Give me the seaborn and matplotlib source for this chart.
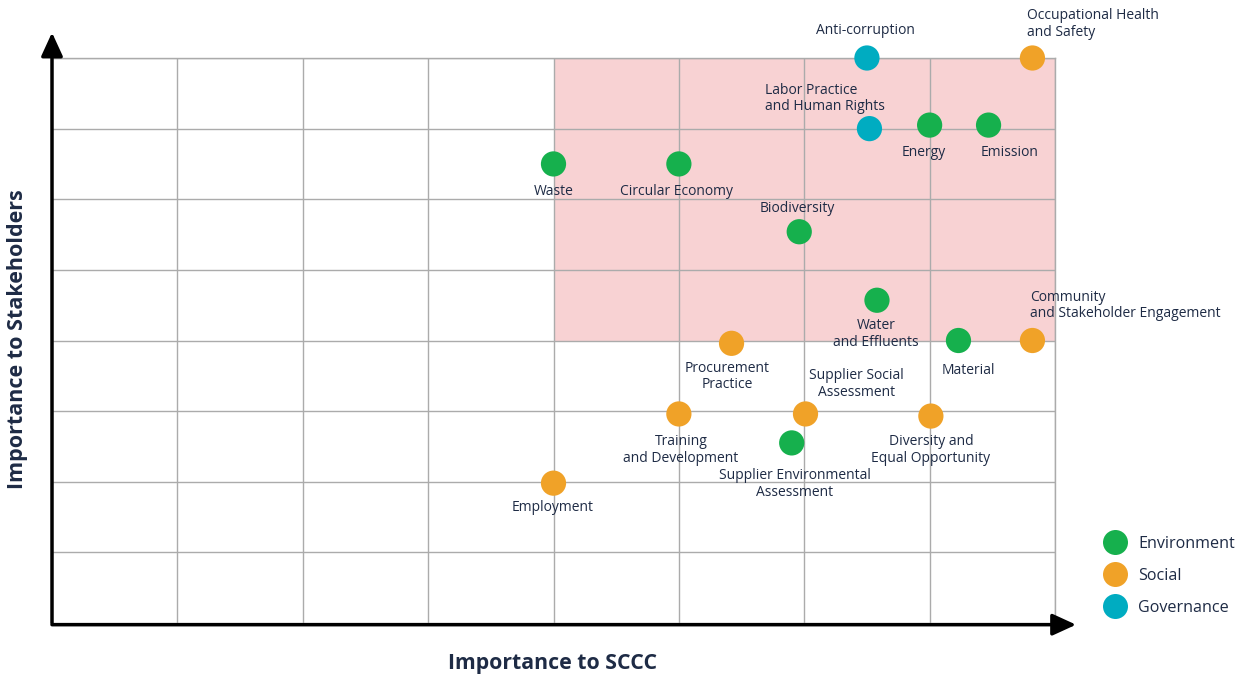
import matplotlib
matplotlib.use("Agg")
import matplotlib.pyplot as plt
import seaborn as sns
import pandas as pd
from matplotlib.patches import Rectangle
from matplotlib.lines import Line2D

# ---- data ----
topics = ["Anti-corruption", "Occupational Health\nand Safety", "Labor Practice\nand Human Rights",
          "Energy", "Emission", "Waste", "Circular Economy", "Biodiversity",
          "Water\nand Effluents", "Material", "Community\nand Stakeholder Engagement",
          "Procurement\nPractice", "Training\nand Development", "Supplier Social\nAssessment",
          "Diversity and\nEqual Opportunity", "Supplier Environmental\nAssessment", "Employment"]
importance_sccc = [6.5, 7.82, 6.52, 7.0, 7.47, 4.0, 5.0, 5.96, 6.58, 7.23, 7.82,
                   5.42, 5.0, 6.01, 7.01, 5.90, 4.0]
importance_stakeholders = [8.0, 8.0, 7.0, 7.05, 7.05, 6.5, 6.5, 5.54, 4.57, 4.0, 4.0,
                           3.96, 2.96, 2.96, 2.93, 2.55, 1.98]
dimension = ["Governance", "Social", "Governance", "Environment", "Environment",
             "Environment", "Environment", "Environment", "Environment", "Environment",
             "Social", "Social", "Social", "Social", "Social", "Environment", "Social"]
categories = ["Environment", "Social", "Governance"]
material_threshold_x = 4
material_threshold_y = 4
axis_max = 8

# ---- styling (label offsets in pixels, alignment) ----
label_style = [(-1, 27, "center"), (-5, 34, "left"), (-104, 30, "left"),
               (-6, -27, "center"), (21, -27, "center"), (0, -28, "center"),
               (-2, -28, "center"), (-2, 23, "center"), (-1, -34, "center"),
               (10, -30, "center"), (-2, 35, "left"), (-4, -33, "center"),
               (2, -36, "center"), (51, 30, "center"), (0, -34, "center"),
               (3, -41, "center"), (-1, -24, "center")]
colors = {"Environment": "#16B04D", "Social": "#F0A228", "Governance": "#00ACC1"}
text_color = "#1E2B45"
grid_color = "#ABABAB"

df = pd.DataFrame({"topic": topics, "x": importance_sccc, "y": importance_stakeholders,
                   "dimension": dimension})

sns.set_theme(style="white")
plt.rcParams["font.family"] = ["Open Sans", "DejaVu Sans"]

fig = plt.figure(figsize=(12.42, 6.78), dpi=100)
ax = fig.add_axes([52/1242, 55/678, (1055-52)/1242, (623-58)/678])

ax.add_patch(Rectangle((material_threshold_x, material_threshold_y),
                       axis_max - material_threshold_x, axis_max - material_threshold_y,
                       facecolor="#F8D2D3", edgecolor="none", zorder=0))

ax.set_xlim(0, axis_max)
ax.set_ylim(0, axis_max)
ax.set_xticks(range(axis_max + 1))
ax.set_yticks(range(axis_max + 1))
ax.grid(True, color=grid_color, lw=1.0, zorder=1)
ax.set_axisbelow(True)
ax.tick_params(left=False, bottom=False, labelleft=False, labelbottom=False)
for s in ["top", "right"]:
    ax.spines[s].set_color(grid_color)
    ax.spines[s].set_linewidth(1.0)
for s in ["left", "bottom"]:
    ax.spines[s].set_visible(False)

sns.scatterplot(data=df, x="x", y="y", hue="dimension", hue_order=categories,
                palette=colors, s=330, edgecolor="none", linewidth=0, ax=ax,
                legend=False, zorder=3, clip_on=False)

for t, xv, yv, (dx, dy, ha) in zip(topics, importance_sccc, importance_stakeholders, label_style):
    ax.annotate(t, (xv, yv), xytext=(dx, dy), textcoords="offset pixels",
                ha=ha, va="center", multialignment=ha, fontsize=10,
                color=text_color, linespacing=1.15, zorder=4, annotation_clip=False)

# axis arrows
ax.annotate("", xy=(0, 1.045), xytext=(0, 0), xycoords="axes fraction",
            arrowprops=dict(arrowstyle="-|>,head_length=1.2,head_width=0.55", color="black",
                            lw=2.5, shrinkA=0, shrinkB=0), annotation_clip=False)
ax.annotate("", xy=(1.021, -0.003), xytext=(0, -0.003), xycoords="axes fraction",
            arrowprops=dict(arrowstyle="-|>,head_length=1.2,head_width=0.55", color="black",
                            lw=2.5, shrinkA=0, shrinkB=0), annotation_clip=False)

fig.text(553/1242, 1 - 664/678, "Importance to SCCC", ha="center", va="center",
         fontsize=15.3, fontweight="bold", color=text_color)
fig.text(18/1242, 1 - 339/678, "Importance to Stakeholders", ha="center", va="center",
         rotation=90, fontsize=15.5, fontweight="bold", color=text_color)

handles = [Line2D([0], [0], marker="o", linestyle="none", markersize=18,
                  markerfacecolor=colors[c], markeredgecolor="none") for c in categories]
leg = fig.legend(handles, categories, loc="center left",
                 bbox_to_anchor=(1096/1242, 1 - 576/678), frameon=False,
                 fontsize=11.6, labelspacing=1.0, handletextpad=0.6, borderaxespad=0,
                 handlelength=1.6)
for txt in leg.get_texts():
    txt.set_color(text_color)

fig.savefig("out.png", dpi=100)
